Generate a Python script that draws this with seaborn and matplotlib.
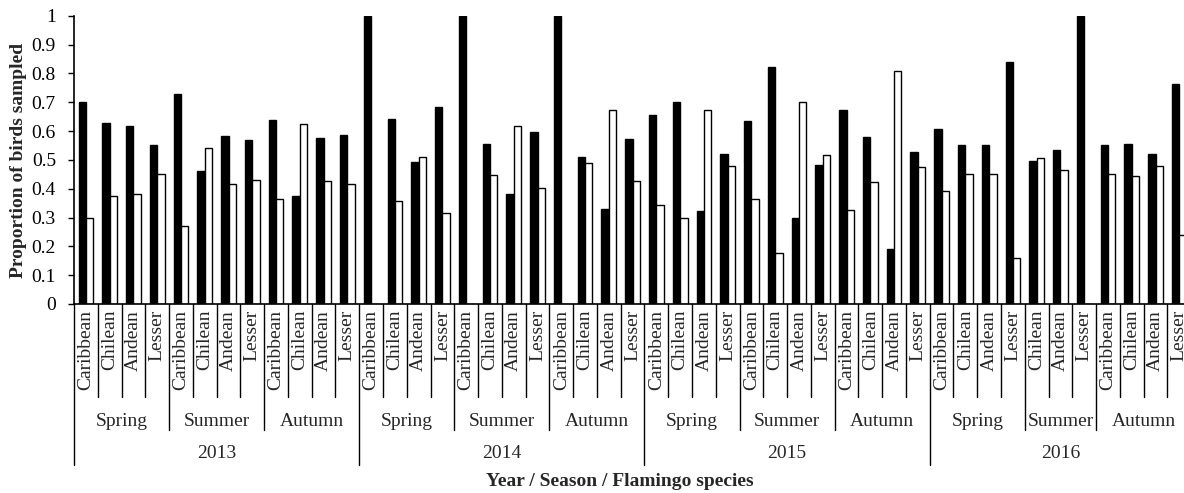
import numpy as np
import pandas as pd
import matplotlib
matplotlib.use("Agg")
import matplotlib.pyplot as plt
import matplotlib.transforms as mtransforms
import seaborn as sns

# ---------------- data ----------------
years = ["2013", "2014", "2015", "2016"]
seasons = ["Spring", "Summer", "Autumn"]
species_all = ["Caribbean", "Chilean", "Andean", "Lesser"]
species_2016_summer = ["Chilean", "Andean", "Lesser"]

# proportion values, in category order (year / season / species)
black_vals = [
    0.70, 0.627, 0.619, 0.551,   # 2013 Spring
    0.73, 0.461, 0.583, 0.568,   # 2013 Summer
    0.638, 0.374, 0.576, 0.586,  # 2013 Autumn
    1.00, 0.641, 0.491, 0.684,   # 2014 Spring
    1.00, 0.554, 0.382, 0.597,   # 2014 Summer
    1.00, 0.511, 0.328, 0.572,   # 2014 Autumn
    0.656, 0.700, 0.324, 0.520,  # 2015 Spring
    0.635, 0.822, 0.300, 0.482,  # 2015 Summer
    0.673, 0.578, 0.192, 0.526,  # 2015 Autumn
    0.608, 0.550, 0.550, 0.841,  # 2016 Spring
    0.495, 0.534, 1.00,          # 2016 Summer
    0.552, 0.556, 0.520, 0.762,  # 2016 Autumn
]
white_vals = [
    0.30, 0.373, 0.381, 0.450,
    0.27, 0.540, 0.416, 0.430,
    0.363, 0.626, 0.425, 0.415,
    0.0, 0.359, 0.510, 0.316,
    0.0, 0.447, 0.618, 0.403,
    0.0, 0.490, 0.673, 0.426,
    0.343, 0.299, 0.674, 0.479,
    0.363, 0.177, 0.699, 0.517,
    0.327, 0.422, 0.808, 0.475,
    0.393, 0.450, 0.450, 0.159,
    0.508, 0.466, 0.0,
    0.450, 0.445, 0.480, 0.238,
]
series_names = ["Series 1", "Series 2"]

# ---------------- build category structure ----------------
cat_year, cat_season, cat_species = [], [], []
for y in years:
    for s in seasons:
        sp_list = species_2016_summer if (y == "2016" and s == "Summer") else species_all
        for sp in sp_list:
            cat_year.append(y)
            cat_season.append(s)
            cat_species.append(sp)
cat_keys = [f"{y}|{s}|{sp}" for y, s, sp in zip(cat_year, cat_season, cat_species)]
n = len(cat_keys)

df = pd.DataFrame({
    "cat": cat_keys * 2,
    "value": black_vals + white_vals,
    "series": [series_names[0]] * n + [series_names[1]] * n,
})

# ---------------- style ----------------
sns.set_style("ticks")
plt.rcParams["font.family"] = ["Liberation Serif", "DejaVu Serif"]
FS = 14

W, H = 1184, 493
fig = plt.figure(figsize=(W / 100, H / 100), dpi=100)
ax_left, ax_bottom_px, ax_top_px = 74, 304, 15.7
cat_w = 23.77
ax_w = cat_w * n
ax = fig.add_axes([ax_left / W, (H - ax_bottom_px) / H, ax_w / W, (ax_bottom_px - ax_top_px) / H])

sns.barplot(data=df, x="cat", y="value", hue="series", order=cat_keys,
            hue_order=series_names, palette={series_names[0]: "black", series_names[1]: "white"},
            edgecolor="black", linewidth=1.0, width=0.62, saturation=1,
            legend=False, ax=ax)

ax.set_xlim(-0.5, n - 0.5)
ax.set_ylim(0, 1)
yt = np.round(np.arange(0, 1.01, 0.1), 1)
ax.set_yticks(yt)
ax.set_yticklabels(["0" if v == 0 else ("1" if v == 1 else f"{v:g}") for v in yt], fontsize=FS)
ax.tick_params(axis="y", direction="out", length=4, width=1, pad=9, colors="black")
ax.set_xticks([])
ax.set_xlabel("")
ax.set_ylabel("")
for sp in ["top", "right"]:
    ax.spines[sp].set_visible(False)
for sp in ["left", "bottom"]:
    ax.spines[sp].set_color("black")
    ax.spines[sp].set_linewidth(1.2)

trans = mtransforms.blended_transform_factory(ax.transData, ax.transAxes)
ax_h_px = ax_bottom_px - ax_top_px


def yfrac(px):
    return (ax_bottom_px - px) / ax_h_px


y_species_end = yfrac(397)
y_season_end = yfrac(430)
y_year_end = yfrac(465)

# separators
for b in range(n):
    x = b - 0.5
    if b == 0 or cat_year[b] != cat_year[b - 1]:
        yend = y_year_end
    elif cat_season[b] != cat_season[b - 1]:
        yend = y_season_end
    else:
        yend = y_species_end
    ax.plot([x, x], [0, yend], color="black", lw=1.0, transform=trans, clip_on=False)

# species labels
for i, sp in enumerate(cat_species):
    ax.text(i, yfrac(310), sp, rotation=90, ha="center", va="top", fontsize=FS,
            transform=trans, clip_on=False)

# season labels
i = 0
while i < n:
    j = i
    while j + 1 < n and cat_year[j + 1] == cat_year[i] and cat_season[j + 1] == cat_season[i]:
        j += 1
    ax.text((i + j) / 2, yfrac(421), cat_season[i], ha="center", va="center", fontsize=FS,
            transform=trans, clip_on=False)
    i = j + 1

# year labels
for y in years:
    idx = [k for k, yy in enumerate(cat_year) if yy == y]
    ax.text((idx[0] + idx[-1]) / 2, yfrac(454), y, ha="center", va="center", fontsize=FS,
            transform=trans, clip_on=False)

fig.text(620 / W, 1 - 481 / H, "Year / Season / Flamingo species", ha="center", va="center",
         fontsize=FS, fontweight="bold")
fig.text(19 / W, 1 - 160 / H, "Proportion of birds sampled", ha="center", va="center",
         rotation=90, fontsize=FS, fontweight="bold")

fig.savefig("out.png", dpi=100)
